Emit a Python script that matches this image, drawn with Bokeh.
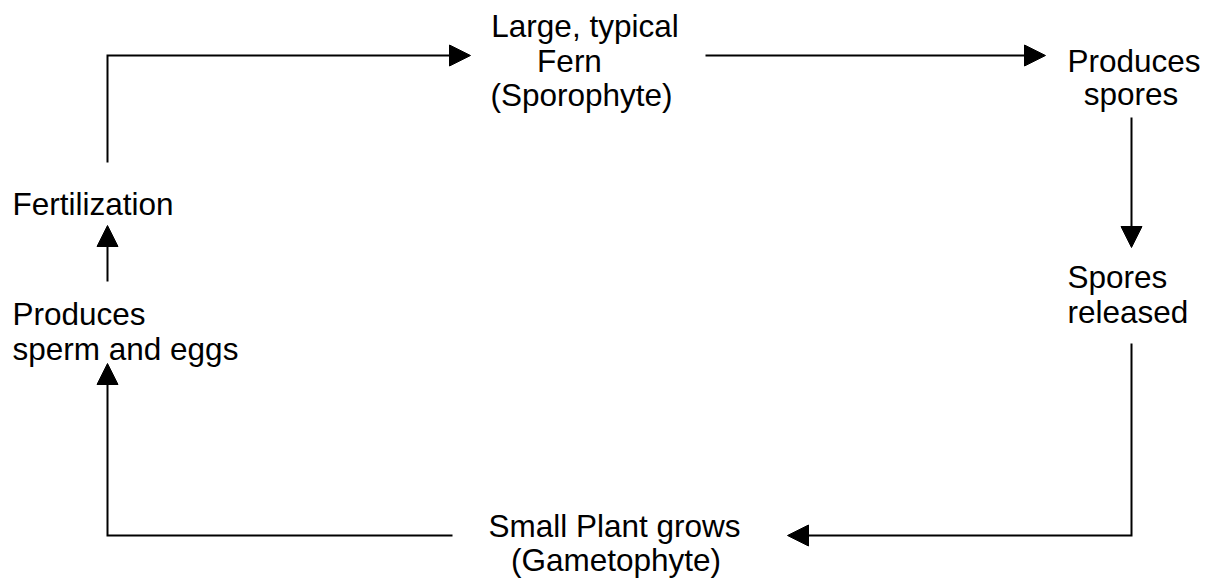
from bokeh.plotting import figure
from bokeh.models import Range1d, ColumnDataSource, Arrow, NormalHead
from bokeh.core.properties import value
from bokeh.embed import file_html
from bokeh.resources import INLINE

# ---- diagram content (positions in reference pixel units) ----
labels = ["Large, typical", "Fern", "(Sporophyte)",
          "Produces", "spores",
          "Spores", "released",
          "Small Plant grows", "(Gametophyte)",
          "Produces", "sperm and eggs",
          "Fertilization"]
label_x = [584.5, 569, 581,
           1133.5, 1130.5,
           1067, 1067,
           614, 615.5,
           12, 12,
           12]
label_y = [37, 72, 106,
           72, 105,
           288, 323,
           537, 571,
           325, 360,
           215]
label_align = ["center", "center", "center",
               "center", "center",
               "left", "left",
               "center", "center",
               "left", "left",
               "left"]

# connector paths; the last point of each is an arrow tip
path_x = [[107, 107, 470],
          [705, 1045],
          [1131, 1131],
          [1131, 1131, 787],
          [452, 107, 107],
          [107, 107]]
path_y = [[162, 55, 55],
          [55, 55],
          [117, 247],
          [343, 535, 535],
          [535, 535, 363],
          [281, 225]]

HEAD = 21

W, H = 1201, 578
p = figure(width=W, height=H, output_backend="svg", toolbar_location=None,
           x_range=Range1d(0, W), y_range=Range1d(H, 0),
           min_border=0, tools="")
p.axis.visible = False
p.xgrid.visible = False
p.ygrid.visible = False
p.outline_line_color = None
p.background_fill_color = "white"
p.border_fill_color = "white"

# lines: stop at the arrowhead base
xs, ys = [], []
for px, py in zip(path_x, path_y):
    x0, y0 = px[-2], py[-2]
    x1, y1 = px[-1], py[-1]
    dx, dy = x1 - x0, y1 - y0
    L = (dx * dx + dy * dy) ** 0.5
    bx, by = x1 - dx / L * (HEAD - 1), y1 - dy / L * (HEAD - 1)
    xs.append(list(px[:-1]) + [bx])
    ys.append(list(py[:-1]) + [by])
    p.add_layout(Arrow(x_start=x0, y_start=y0, x_end=x1, y_end=y1,
                       line_alpha=0, line_width=2,
                       end=NormalHead(size=HEAD, fill_color="black",
                                      line_color="black", line_width=1)))
p.multi_line(xs, ys, line_color="black", line_width=2, line_join="miter")

src = ColumnDataSource(dict(x=label_x, y=label_y, text=labels, align=label_align))
p.text("x", "y", text="text", source=src, text_align="align",
       text_baseline="alphabetic", text_font=value("Liberation Sans"),
       text_font_size="31.5px", text_color="black", y_offset=-12)

open("out.html", "w").write(file_html(p, INLINE))
